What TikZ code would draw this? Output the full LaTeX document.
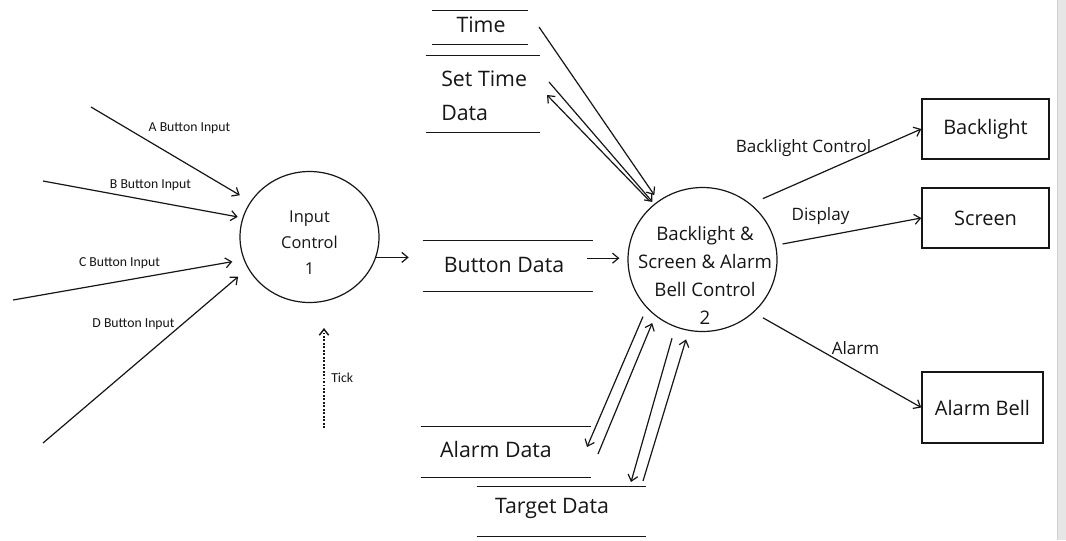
\documentclass[tikz,border=0pt]{standalone}
\usepackage{fontspec}
\setmainfont{Open Sans}
\newfontfamily\lblfont{Carlito}
\usetikzlibrary{arrows.meta,shapes.geometric}
\definecolor{ink}{HTML}{161616}
\definecolor{barfill}{HTML}{E6E6E6}
\definecolor{barline}{HTML}{D2D2D2}
\begin{document}
\begin{tikzpicture}[x=0.75pt,y=-0.75pt,
  ln/.style={draw=ink, line width=0.9pt},
  arr/.style={ln, -{Straight Barb[length=4.5pt,width=7.5pt]}},
  tickarr/.style={draw=ink, line width=1.5pt, dash pattern=on 1.4pt off 1.2pt, -{Straight Barb[length=4.5pt,width=7pt,line width=1.1pt]}},
  proc/.style={ellipse, draw=ink, line width=0.9pt, inner sep=0pt},
  store/.style={rectangle, inner sep=0pt},
  ext/.style={rectangle, draw=ink, line width=1.1pt, inner sep=0pt, text=ink, font=\fontsize{15}{18}\selectfont},
  big/.style={inner sep=0pt, text=ink, font=\fontsize{16}{19}\selectfont},
  ptxtA/.style={inner sep=0pt, text=ink, align=center, font=\fontsize{12.3}{19.5}\selectfont},
  ptxtB/.style={inner sep=0pt, text=ink, align=center, font=\fontsize{14}{21}\selectfont},
  flow/.style={inner sep=0pt, text=ink, font=\fontsize{12.8}{15}\selectfont},
  small/.style={inner sep=0pt, text=ink, font=\lblfont\fontsize{10.3}{12}\selectfont}
]
\useasboundingbox (0,0) rectangle (1066,540);
\fill[white] (0,0) rectangle (1066,540);
\fill[barfill] (1057,0) rectangle (1066,540);
\draw[barline, line width=1pt] (1057.5,0) -- (1057.5,540);

% processes
\node[proc, minimum width=104.25pt, minimum height=98.25pt] (p1) at (309.5,237) {};
\node[proc, minimum width=111.75pt, minimum height=108pt] (p2) at (702.5,259.5) {};
\node[ptxtA] (p1t) at (309.5,243) {Input\\Control\\1};
\node[ptxtB] (p2t) at (705,275) {Backlight \&\\Screen \& Alarm\\Bell Control\\2};

% data stores
\node[store, minimum width=71.25pt, minimum height=24.75pt] (time) at (480,27.5) {};
\draw[ln] (time.north west) -- (time.north east) (time.south west) -- (time.south east);
\node[big] (timet) at (481,25) {Time};

\node[store, minimum width=85.5pt, minimum height=57pt] (std) at (483,94) {};
\draw[ln] (std.north west) -- (std.north east) (std.south west) -- (std.south east);
\node[big, align=left, anchor=west, font=\fontsize{16}{25.5}\selectfont] (stdt) at (441,96) {Set Time\\Data};

\node[store, minimum width=127.5pt, minimum height=37.5pt] (bd) at (508,266) {};
\draw[ln] (bd.north west) -- (bd.north east) (bd.south west) -- (bd.south east);
\node[big] (bdt) at (504,265) {Button Data};

\node[store, minimum width=127.5pt, minimum height=37.5pt] (ad) at (506,452) {};
\draw[ln] (ad.north west) -- (ad.north east) (ad.south west) -- (ad.south east);
\node[big] (adt) at (496,449) {Alarm Data};

\node[store, minimum width=126.75pt, minimum height=36.75pt] (td) at (561.5,511.5) {};
\draw[ln] (td.north west) -- (td.north east) (td.south west) -- (td.south east);
\node[big] (tdt) at (552,508) {Target Data};

% externals
\node[ext, minimum width=95.25pt, minimum height=45pt] (bl) at (985.5,129) {Backlight};
\node[ext, minimum width=95.25pt, minimum height=45pt] (sc) at (985.5,218) {Screen};
\node[ext, minimum width=90.75pt, minimum height=53.25pt] (ab) at (982.5,407.5) {Alarm Bell};

% free ends
\coordinate (ain) at (91,107);
\coordinate (bin) at (43,181);
\coordinate (cin) at (13,300);
\coordinate (din) at (43,443);
\coordinate (tick0) at (324,428);
\coordinate (tick1) at (324,328);
\coordinate (tmo) at (539,27);
\coordinate (sto) at (549,82);
\coordinate (sti) at (547,95);
\coordinate (adi) at (587,447);
\coordinate (ado) at (598,454);
\coordinate (tdi) at (631,482);
\coordinate (tdo) at (643,481);

% connectors
\draw[arr, shorten >=9.2pt] (ain) -- (p1.149.5);
\draw[arr, shorten >=3.6pt] (bin) -- (p1.164.8);
\draw[arr, shorten >=8.6pt] (cin) -- (p1.199.4);
\draw[arr, shorten >=9.5pt] (din) -- (p1.207.6);
\draw[arr, shorten >=10.5pt] (p1.-17.7) -- (p1.-17.7 -| bd.west);
\draw[arr, shorten <=-4.5pt, shorten >=6pt] (bd.east |- p2.179) -- (p2.179);
\draw[arr, shorten >=5.25pt] (tmo) -- (p2.127.7);
\draw[arr, shorten >=2pt] (sto) -- (p2.131.8);
\draw[arr, shorten <=4pt] (p2.132.9) -- (sti);
\draw[arr, shorten <=7pt] (p2.221.8) -- (adi);
\draw[arr, shorten >=5.85pt] (ado) -- (p2.230.4);
\draw[arr, shorten <=8.7pt] (p2.248.7) -- (tdi);
\draw[arr, shorten >=6.75pt] (tdo) -- (p2.259.8);
\draw[arr, shorten <=9.8pt] (p2.49.3) -- (bl.west);
\draw[arr, shorten <=4.9pt] (p2.11.7) -- (sc.west);
\draw[arr, shorten <=8pt] (p2.-46.4) -- (ab.west);
\draw[tickarr] (tick0) -- (tick1);

% labels
\node[small] (la) at (189.5,128) {A Button Input};
\node[small] (lb) at (150.5,185) {B Button Input};
\node[small] (lc) at (119.5,263) {C Button Input};
\node[small] (ld) at (133.5,324) {D Button Input};
\node[small, anchor=west] (lt) at (331,378) {Tick};
\node[flow] (lbc) at (803.5,148) {Backlight Control};
\node[flow] (ldi) at (820.5,216) {Display};
\node[flow] (lal) at (855.5,348) {Alarm};
\end{tikzpicture}
\end{document}
